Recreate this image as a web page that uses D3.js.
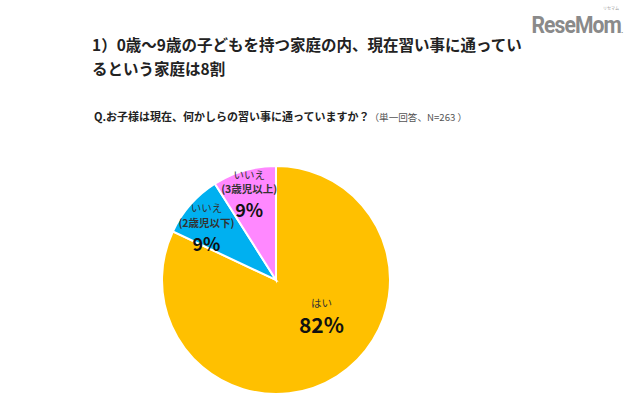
<!DOCTYPE html>
<html><head><meta charset="utf-8">
<script src="https://cdn.jsdelivr.net/npm/d3@7"></script>
<style>body{margin:0;background:#fff}svg{display:block}</style>
</head><body>
<svg id="c" width="640" height="420"></svg>
<script>
const categories = ["はい", "いいえ\n(2歳児以下)", "いいえ\n(3歳児以上)"];
const values = [82, 9, 9];
const pctLabels = ["82%", "9%", "9%"];
const colors = ["#FFC000", "#00B0F0", "#FF88FF"];
const titleLines = ["1）0歳～9歳の子どもを持つ家庭の内、現在習い事に通ってい", "るという家庭は8割"];
const question = "Q.お子様は現在、何かしらの習い事に通っていますか？";
const questionNote = "（単一回答、N=263 ）";

const svg = d3.select("#c");
const font = "'Noto Sans CJK JP', 'Noto Sans', sans-serif";

// logo
svg.append("text").attr("x", 621).attr("y", 33).attr("text-anchor", "end")
  .attr("font-size", 23).attr("font-weight", 700).attr("fill", "#8a8a8a")
  .attr("letter-spacing", -1).attr("font-family", "Roboto, sans-serif")
  .attr("transform", "translate(621,0) scale(0.92,1) translate(-621,0)").text("ReseMom");
svg.append("text").attr("x", 621).attr("y", 33)
  .attr("font-size", 8).attr("font-weight", 700).attr("fill", "#8a8a8a")
  .attr("font-family", "Roboto, sans-serif").text(".");
svg.append("text").attr("x", 611).attr("y", 10).attr("text-anchor", "middle")
  .attr("font-size", 4).attr("fill", "#999").attr("font-family", font).text("リセマム");

// titles
svg.selectAll("text.title").data(titleLines).join("text").attr("class", "title")
  .attr("x", 92).attr("y", (d, i) => 51 + i * 24)
  .attr("font-family", font).attr("font-weight", 700).attr("font-size", 15.5)
  .attr("fill", "#222").text(d => d);

const q = svg.append("text").attr("x", 94).attr("y", 121).attr("font-family", font)
  .attr("fill", "#222");
q.append("tspan").attr("font-weight", 700).attr("font-size", 11).text(question);
q.append("tspan").attr("font-size", 9.6).attr("fill", "#555").text(questionNote);

// pie
const cx = 276, cy = 280, r = 114;
const pie = d3.pie().sort(null).value(d => d)(values);
const arc = d3.arc().innerRadius(0).outerRadius(r);
const g = svg.append("g").attr("transform", `translate(${cx},${cy})`);
g.selectAll("path").data(pie).join("path")
  .attr("d", arc).attr("fill", (d, i) => colors[i])
  .attr("stroke", "#fff").attr("stroke-width", 2);

// labels: anchor on the slice's mid-angle ray, with small offsets
const labelPos = [
  { rad: 0.45, dx: 18, nameDy: [-16], pctDy: 10, pctSize: 21 },
  { rad: 0.79, dx: -2, nameDy: [-8, 7], pctDy: 31, pctSize: 18 },
  { rad: 0.78, dx: -2, nameDy: [-16, -2], pctDy: 22, pctSize: 18 }
];
pie.forEach((d, i) => {
  const a = (d.startAngle + d.endAngle) / 2;
  const lp = labelPos[i];
  const x = Math.sin(a) * r * lp.rad + lp.dx;
  const y = -Math.cos(a) * r * lp.rad;
  const lines = categories[i].split("\n");
  const t = g.append("text").attr("text-anchor", "middle").attr("font-family", font)
    .attr("fill", "#333").attr("font-size", 10.5);
  lines.forEach((ln, j) => {
    t.append("tspan").attr("x", x).attr("y", y + lp.nameDy[j])
      .attr("font-weight", j > 0 ? 700 : 400).text(ln);
  });
  g.append("text").attr("text-anchor", "middle").attr("font-family", font)
    .attr("font-weight", 700).attr("font-size", lp.pctSize).attr("fill", "#111")
    .attr("x", x).attr("y", y + lp.pctDy).text(pctLabels[i]);
});
</script>
</body></html>
